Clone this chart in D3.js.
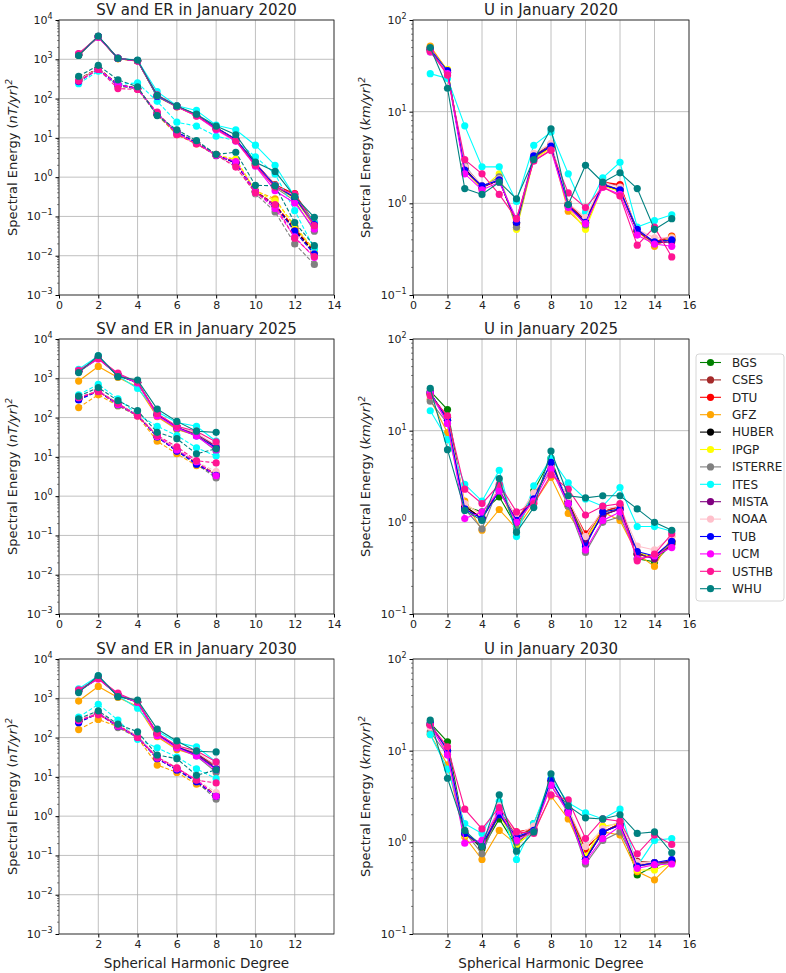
<!DOCTYPE html>
<html lang="en">
<head>
  <meta charset="UTF-8">
  <title>Spectral energy of SV, ER and U</title>
  <style>
    body { margin: 0; background: #fff; font-family: "DejaVu Sans", sans-serif; }
    svg text { font-family: "DejaVu Sans", sans-serif; fill: #222; }
  </style>
</head>
<body>
  <svg id="chart" width="786" height="973"></svg>
  <script src="https://d3js.org/d3.v7.min.js"></script>
  <script>
    // model names and colours (legend order)
    const models = ["BGS", "CSES", "DTU", "GFZ", "HUBER", "IPGP", "ISTERRE", "ITES", "MISTA", "NOAA", "TUB", "UCM", "USTHB", "WHU"];
    const colors = ["#008000", "#a52a2a", "#ff0000", "#ffa500", "#000000", "#ffff00", "#808080", "#00ffff", "#800080", "#ffc0cb", "#0000ff", "#ff00ff", "#ff1493", "#008080"];

    const degreesSV2020 = [1,2,3,4,5,6,7,8,9,10,11,12,13];
    const degreesSV = [1,2,3,4,5,6,7,8];
    const degreesU = [1,2,3,4,5,6,7,8,9,10,11,12,13,14,15];

    // one row per model, same order as models
    const sv2020 = [
      [1300,3800,1050,920,115,63,38,18,9.0,2.2,0.60,0.30,0.060],
      [1310,3780,1040,910,118,62,37,17,8.8,2.1,0.65,0.36,0.065],
      [1290,3820,1060,925,112,64,38,18,9.2,2.3,0.62,0.38,0.070],
      [1280,3750,1030,900,110,61,36,17,8.5,2.0,0.58,0.30,0.055],
      [1300,3800,1050,920,115,63,38,18,9.0,2.2,0.60,0.30,0.060],
      [1305,3790,1045,915,114,63,37,18,8.9,2.1,0.60,0.28,0.058],
      [1295,3800,1050,920,113,62,37,17,8.7,2.0,0.55,0.25,0.042],
      [1350,3700,1080,940,150,66,50,21,16,6.5,2.0,0.32,0.070],
      [1300,3800,1050,920,115,63,38,18,9.0,2.2,0.60,0.30,0.060],
      [1300,3790,1050,918,116,63,38,18,9.0,2.2,0.62,0.32,0.060],
      [1300,3810,1050,920,115,63,38,18,9.1,2.2,0.60,0.31,0.062],
      [1380,3600,1060,900,120,62,36,16,8.2,1.9,0.45,0.22,0.048],
      [1400,3700,1070,910,125,64,37,17,8.5,2.0,0.55,0.37,0.058],
      [1250,3900,1050,950,120,65,40,20,12,2.4,1.4,0.32,0.095]
    ];
    const er2020 = [
      [300,580,220,180,40,14,7.5,3.7,2.3,0.42,0.19,0.045,0.012],
      [310,590,230,185,42,14,7.8,3.8,2.4,0.45,0.20,0.050,0.013],
      [305,600,225,182,41,13.5,7.6,3.7,2.3,0.43,0.20,0.050,0.013],
      [290,570,215,175,38,12,7.0,3.6,2.8,0.45,0.28,0.055,0.014],
      [300,580,220,180,40,14,7.5,3.7,2.3,0.42,0.19,0.045,0.012],
      [295,575,218,178,39,13,7.3,3.6,2.9,0.44,0.25,0.060,0.013],
      [300,580,210,175,38,13,7.2,3.5,2.0,0.38,0.13,0.020,0.006],
      [240,500,230,250,85,25,20,11,8.5,3.3,1.2,0.14,0.015],
      [280,560,225,180,40,14,7.5,3.7,2.3,0.42,0.19,0.043,0.011],
      [300,580,220,180,42,14,7.5,3.7,2.0,0.40,0.17,0.040,0.011],
      [270,560,220,180,40,14,7.5,3.6,2.3,0.42,0.19,0.042,0.011],
      [280,550,230,175,42,13,7.2,3.6,2.5,0.42,0.16,0.030,0.009],
      [280,560,180,170,45,12,7.0,3.7,1.8,0.40,0.20,0.028,0.0095],
      [370,700,300,200,37,16,8.5,3.8,4.3,0.62,0.60,0.070,0.018]
    ];
    const u2020 = [
      [48,27,2.4,1.5,1.8,0.62,3.2,4.2,0.95,0.60,1.6,1.4,0.50,0.37,0.40],
      [50,28,2.5,1.55,1.85,0.60,3.3,4.4,1.0,0.65,1.7,1.55,0.50,0.38,0.42],
      [49,27,2.4,1.5,1.8,0.60,3.2,4.3,1.0,0.62,1.7,1.6,0.50,0.38,0.44],
      [52,28,2.3,1.45,1.9,0.55,3.1,4.1,0.82,0.55,1.6,1.35,0.50,0.34,0.43],
      [48,27,2.4,1.5,1.8,0.60,3.2,4.2,0.95,0.60,1.6,1.4,0.50,0.37,0.40],
      [47,29,2.3,1.45,2.1,0.52,3.0,4.0,0.90,0.52,1.55,1.35,0.52,0.36,0.41],
      [45,27,2.6,1.5,1.95,0.55,3.1,4.3,0.95,0.58,1.65,1.4,0.52,0.36,0.40],
      [26,23,7.0,2.5,2.5,1.05,4.3,6.0,2.1,0.80,1.9,2.8,0.55,0.65,0.75],
      [47,27,2.3,1.5,1.8,0.62,3.2,4.2,0.95,0.62,1.6,1.4,0.50,0.37,0.38],
      [49,27,2.5,1.55,1.85,0.65,3.5,4.5,1.0,0.70,1.7,1.5,0.52,0.42,0.42],
      [48,28,2.3,1.55,1.8,0.62,3.3,4.2,0.95,0.62,1.6,1.4,0.52,0.38,0.40],
      [45,26,2.1,1.4,1.7,0.68,2.9,3.8,0.90,0.60,1.5,1.25,0.45,0.36,0.34],
      [46,25,3.0,2.1,1.25,0.68,2.9,3.8,1.3,0.90,1.5,1.2,0.35,0.55,0.26],
      [50,18,1.45,1.25,1.7,1.12,3.0,6.5,0.97,2.6,1.7,2.15,1.45,0.52,0.68]
    ];

    const sv2025 = [
      [1500,3300,1200,780,120,57,38,18],
      [1520,3250,1220,790,125,58,39,19],
      [1500,3300,1200,780,120,57,38,18],
      [850,2000,1050,600,105,50,35,17],
      [1500,3300,1200,780,120,57,38,18],
      [1480,3280,1190,770,118,56,37,17],
      [1450,3200,1180,760,115,52,35,14],
      [1700,3700,1150,550,140,75,60,25],
      [1500,3300,1200,780,120,57,38,18],
      [1550,3350,1250,800,128,60,40,20],
      [1500,3300,1200,780,120,57,34,17],
      [1560,3100,1250,760,110,55,34,15],
      [1600,3200,1350,800,125,60,45,24],
      [1400,3800,1100,900,165,80,45,42]
    ];
    const er2025 = [
      [300,480,220,115,33,15,7.0,3.5],
      [310,490,225,118,34,15.5,7.2,3.6],
      [305,485,222,116,33,15,7.0,3.5],
      [180,380,200,110,25,12,6.0,3.6],
      [300,480,220,115,33,15,7.0,3.5],
      [300,480,220,115,33,15,7.0,3.6],
      [290,470,200,112,32,14,6.5,2.9],
      [380,700,300,120,60,35,17,10.5],
      [300,480,220,115,33,15,7.0,3.5],
      [320,500,230,120,35,16,7.5,4.2],
      [280,470,215,113,32,14,6.5,3.4],
      [320,470,215,112,33,15,7.5,3.3],
      [330,460,230,110,35,18,8.0,7.0],
      [350,580,270,150,42,29,12,16]
    ];
    const u2025 = [
      [27,17,1.5,1.3,1.9,0.90,2.2,5.0,1.5,0.70,1.3,1.5,0.40,0.37,0.58],
      [25,14,1.5,1.1,2.4,1.1,1.9,4.3,1.7,0.70,1.3,1.5,0.45,0.42,0.62],
      [25,14,1.5,1.1,2.4,1.05,1.9,4.3,1.7,0.75,1.3,1.5,0.45,0.42,0.62],
      [22,9.5,1.7,0.82,1.38,0.85,1.6,3.1,1.25,0.65,1.3,1.05,0.45,0.33,0.70],
      [25,13,1.5,1.1,2.3,1.0,1.8,4.3,1.7,0.60,1.2,1.4,0.45,0.42,0.60],
      [25,13,1.6,1.2,2.3,0.90,1.8,4.3,1.6,0.62,1.3,1.4,0.48,0.40,0.60],
      [21,12,1.4,0.85,2.5,0.85,2.0,4.0,1.5,0.47,1.0,1.15,0.45,0.40,0.62],
      [16.5,8.0,2.6,1.7,3.7,0.70,2.5,5.0,2.7,1.8,1.5,2.4,0.90,0.90,0.80],
      [26,13,1.4,1.1,2.3,1.0,1.8,4.3,1.6,0.60,1.2,1.4,0.45,0.40,0.58],
      [24,13,1.6,1.2,2.4,1.1,2.1,4.0,1.8,0.70,1.4,1.5,0.55,0.50,0.70],
      [26,13,1.4,1.1,2.2,1.05,1.8,4.5,1.6,0.55,1.3,1.4,0.48,0.43,0.62],
      [26,12,1.1,1.3,2.2,1.0,1.7,3.8,1.6,0.50,1.05,1.3,0.40,0.43,0.53],
      [24,14.5,2.3,1.6,2.6,1.3,1.6,3.3,2.3,1.2,1.5,1.6,0.38,0.45,0.75],
      [29,6.2,1.35,1.05,3.0,0.78,1.45,6.0,1.95,1.85,1.95,1.95,1.4,1.0,0.82]
    ];

    const sv2030 = [
      [1550,3300,1200,800,125,58,38,17],
      [1560,3280,1220,800,128,60,40,19],
      [1550,3300,1200,800,125,58,38,17],
      [850,2000,1050,620,105,50,35,16],
      [1550,3300,1200,800,125,58,38,17],
      [1530,3280,1190,790,122,57,37,17],
      [1500,3200,1180,780,118,54,34,13],
      [1750,3700,1150,560,145,75,58,24],
      [1550,3300,1200,800,125,58,38,17],
      [1600,3350,1250,820,130,62,42,20],
      [1550,3300,1200,800,125,58,35,16],
      [1600,3100,1250,780,112,55,34,15],
      [1650,3200,1350,820,128,62,46,24],
      [1400,3800,1100,900,165,82,45,43]
    ];
    const er2030 = [
      [260,420,200,105,30,16,8.0,3.3],
      [270,430,205,108,31,16.5,8.2,3.4],
      [265,425,202,106,30,16,8.0,3.3],
      [160,290,190,100,20,13,6.5,3.6],
      [260,420,200,105,30,16,8.0,3.3],
      [260,420,200,105,30,16,8.0,3.4],
      [250,410,180,100,29,15,7.5,2.7],
      [330,700,280,90,55,32,16,9.0],
      [260,420,200,105,30,16,8.0,3.3],
      [280,440,210,110,32,17,8.5,4.0],
      [240,410,195,102,29,15,7.5,3.2],
      [270,410,195,102,30,16,8.5,3.2],
      [280,380,210,100,32,17,8.2,7.0],
      [300,480,220,140,36,29,11,15]
    ];
    const u2030 = [
      [20,12.5,1.3,0.85,1.8,0.90,1.6,4.5,2.4,0.70,1.3,1.6,0.44,0.55,0.62],
      [19,10,1.3,0.90,2.2,1.2,1.4,4.5,2.2,0.85,1.3,1.6,0.62,0.60,0.62],
      [19,10,1.3,0.90,2.1,1.3,1.4,4.5,2.2,0.85,1.3,1.6,0.60,0.60,0.62],
      [15,7.0,1.15,0.65,1.35,0.95,1.3,3.2,1.8,0.70,1.3,1.2,0.48,0.39,0.60],
      [19,10,1.25,0.90,2.0,1.1,1.35,4.6,2.2,0.65,1.3,1.55,0.55,0.60,0.63],
      [19,9.5,1.2,0.95,2.0,0.95,1.35,4.5,2.2,0.70,1.5,1.6,0.50,0.50,0.60],
      [16,9.0,1.3,0.75,2.1,1.0,1.4,4.2,2.1,0.58,1.05,1.3,0.55,0.58,0.60],
      [15,6.3,1.6,1.25,2.8,0.65,1.6,5.0,2.7,2.1,1.8,2.3,0.55,1.05,1.1],
      [19,10,1.25,0.90,2.0,1.1,1.35,4.6,2.2,0.65,1.3,1.55,0.55,0.60,0.62],
      [18,10,1.3,0.95,2.5,1.2,1.5,4.4,2.3,0.90,1.4,1.7,0.60,0.60,0.65],
      [20,10,1.25,0.95,2.0,1.15,1.35,4.8,2.2,0.65,1.3,1.55,0.55,0.60,0.65],
      [19,9.0,0.98,1.05,2.2,1.05,1.3,4.2,2.1,0.62,1.1,1.5,0.52,0.57,0.58],
      [19,11,2.3,1.4,2.4,1.3,1.25,3.3,2.9,1.1,1.8,1.7,0.75,1.2,0.95],
      [21.5,5.0,1.35,0.90,3.3,0.80,1.3,5.6,2.5,1.85,1.8,2.0,1.25,1.3,0.77]
    ];

    const svTicksX = [0,2,4,6,8,10,12,14];
    const svTicksXBottom = [2,4,6,8,10,12];
    const uTicksX = [0,2,4,6,8,10,12,14,16];
    const uTicksXBottom = [2,4,6,8,10,12,14,16];
    const svTicksY = [1e-3,1e-2,1e-1,1,10,100,1000,1e4];
    const uTicksY = [0.1,1,10,100];

    const svg = d3.select("#chart");
    const rowsTop = [20, 339, 659];
    const plotH = 275;

    const panels = [
      { title: "SV and ER in January 2020", row: 0, col: 0, degs: degreesSV2020, sets: [[sv2020, null], [er2020, "4,2"]], bottom: false },
      { title: "U in January 2020", row: 0, col: 1, degs: degreesU, sets: [[u2020, null]], bottom: false },
      { title: "SV and ER in January 2025", row: 1, col: 0, degs: degreesSV, sets: [[sv2025, null], [er2025, "4,2"]], bottom: false },
      { title: "U in January 2025", row: 1, col: 1, degs: degreesU, sets: [[u2025, null]], bottom: false },
      { title: "SV and ER in January 2030", row: 2, col: 0, degs: degreesSV, sets: [[sv2030, null], [er2030, "4,2"]], bottom: true },
      { title: "U in January 2030", row: 2, col: 1, degs: degreesU, sets: [[u2030, null]], bottom: true }
    ];

    function supLabel(sel, v) {
      const e = Math.round(Math.log10(v));
      sel.text(null);
      sel.append("tspan").text("10");
      sel.append("tspan").attr("dy", -5).attr("font-size", 8).text(e < 0 ? "\u2212" + (-e) : e);
    }

    panels.forEach(p => {
      const left = p.col === 0 ? 59 : 413;
      const w = p.col === 0 ? 275 : 276;
      const top = rowsTop[p.row];
      const isSV = p.col === 0;

      const x = d3.scaleLinear().domain(isSV ? [0, 14] : [0, 16]).range([left, left + w]);
      const y = d3.scaleLog().domain(isSV ? [1e-3, 1e4] : [0.1, 100]).range([top + plotH, top]);

      const xt = isSV ? (p.bottom ? svTicksXBottom : svTicksX) : (p.bottom ? uTicksXBottom : uTicksX);
      const yt = isSV ? svTicksY : uTicksY;

      const g = svg.append("g");

      // grid
      g.selectAll(".gx").data(xt).enter().append("line")
        .attr("x1", d => x(d)).attr("x2", d => x(d))
        .attr("y1", top).attr("y2", top + plotH)
        .attr("stroke", "#b0b0b0").attr("stroke-width", 0.8);
      g.selectAll(".gy").data(yt).enter().append("line")
        .attr("x1", left).attr("x2", left + w)
        .attr("y1", d => y(d)).attr("y2", d => y(d))
        .attr("stroke", "#b0b0b0").attr("stroke-width", 0.8);

      // minor y ticks
      const minor = [];
      yt.slice(0, -1).forEach(b => { for (let k = 2; k <= 9; k++) minor.push(b * k); });
      g.selectAll(".my").data(minor).enter().append("line")
        .attr("x1", left - 2).attr("x2", left)
        .attr("y1", d => y(d)).attr("y2", d => y(d))
        .attr("stroke", "#333").attr("stroke-width", 0.6);

      // axes
      const ax = g.append("g").attr("transform", `translate(0,${top + plotH})`)
        .call(d3.axisBottom(x).tickValues(xt).tickSize(3.5).tickPadding(3).tickFormat(d3.format("d")));
      ax.select(".domain").remove();
      ax.selectAll("text").attr("font-size", 11).attr("fill", "#222");

      const ay = g.append("g").attr("transform", `translate(${left},0)`)
        .call(d3.axisLeft(y).tickValues(yt).tickSize(3.5).tickPadding(3));
      ay.select(".domain").remove();
      ay.selectAll("text").attr("font-size", 11).attr("fill", "#222").each(function(d) { supLabel(d3.select(this), d); });

      // lines
      const line = d3.line().x(d => x(d[0])).y(d => y(d[1]));
      models.forEach((m, i) => {
        p.sets.forEach(([rows, dash]) => {
          const pts = p.degs.map((dg, j) => [dg, rows[i][j]]);
          g.append("path").datum(pts)
            .attr("d", line)
            .attr("fill", "none")
            .attr("stroke", colors[i])
            .attr("stroke-width", 1.1)
            .attr("stroke-dasharray", dash);
          g.selectAll(null).data(pts).enter().append("circle")
            .attr("cx", d => x(d[0])).attr("cy", d => y(d[1]))
            .attr("r", 3.6).attr("fill", colors[i]);
        });
      });

      // frame
      g.append("rect").attr("x", left).attr("y", top).attr("width", w).attr("height", plotH)
        .attr("fill", "none").attr("stroke", "#222").attr("stroke-width", 0.8);

      // title
      g.append("text").attr("x", left + w / 2).attr("y", top - 5)
        .attr("text-anchor", "middle").attr("font-size", 15).text(p.title);

      // y label
      const lx = isSV ? 12 : 365;
      const lab = g.append("text")
        .attr("transform", `translate(${lx + 5},${top + plotH / 2}) rotate(-90)`)
        .attr("text-anchor", "middle").attr("font-size", 13);
      lab.append("tspan").text("Spectral Energy (");
      lab.append("tspan").attr("font-style", "italic").text(isSV ? "nT/yr" : "km/yr");
      lab.append("tspan").text(")");
      lab.append("tspan").attr("dy", -5).attr("font-size", 9).attr("font-style", "italic").text("2");

      if (p.bottom) {
        g.append("text").attr("x", left + w / 2).attr("y", 968)
          .attr("text-anchor", "middle").attr("font-size", 13.5).text("Spherical Harmonic Degree");
      }
    });

    // legend
    const lg = svg.append("g").attr("transform", "translate(696,354)");
    lg.append("rect").attr("width", 88).attr("height", 247).attr("rx", 3)
      .attr("fill", "#fff").attr("stroke", "#ccc").attr("stroke-width", 0.8);
    models.forEach((m, i) => {
      const yy = 8.5 + i * 17.4;
      lg.append("line").attr("x1", 4).attr("x2", 25).attr("y1", yy).attr("y2", yy)
        .attr("stroke", colors[i]).attr("stroke-width", 1.1);
      lg.append("circle").attr("cx", 14.5).attr("cy", yy).attr("r", 3.6).attr("fill", colors[i]);
      lg.append("text").attr("x", 36).attr("y", yy + 4.3).attr("font-size", 12).text(m);
    });
  </script>
</body>
</html>
